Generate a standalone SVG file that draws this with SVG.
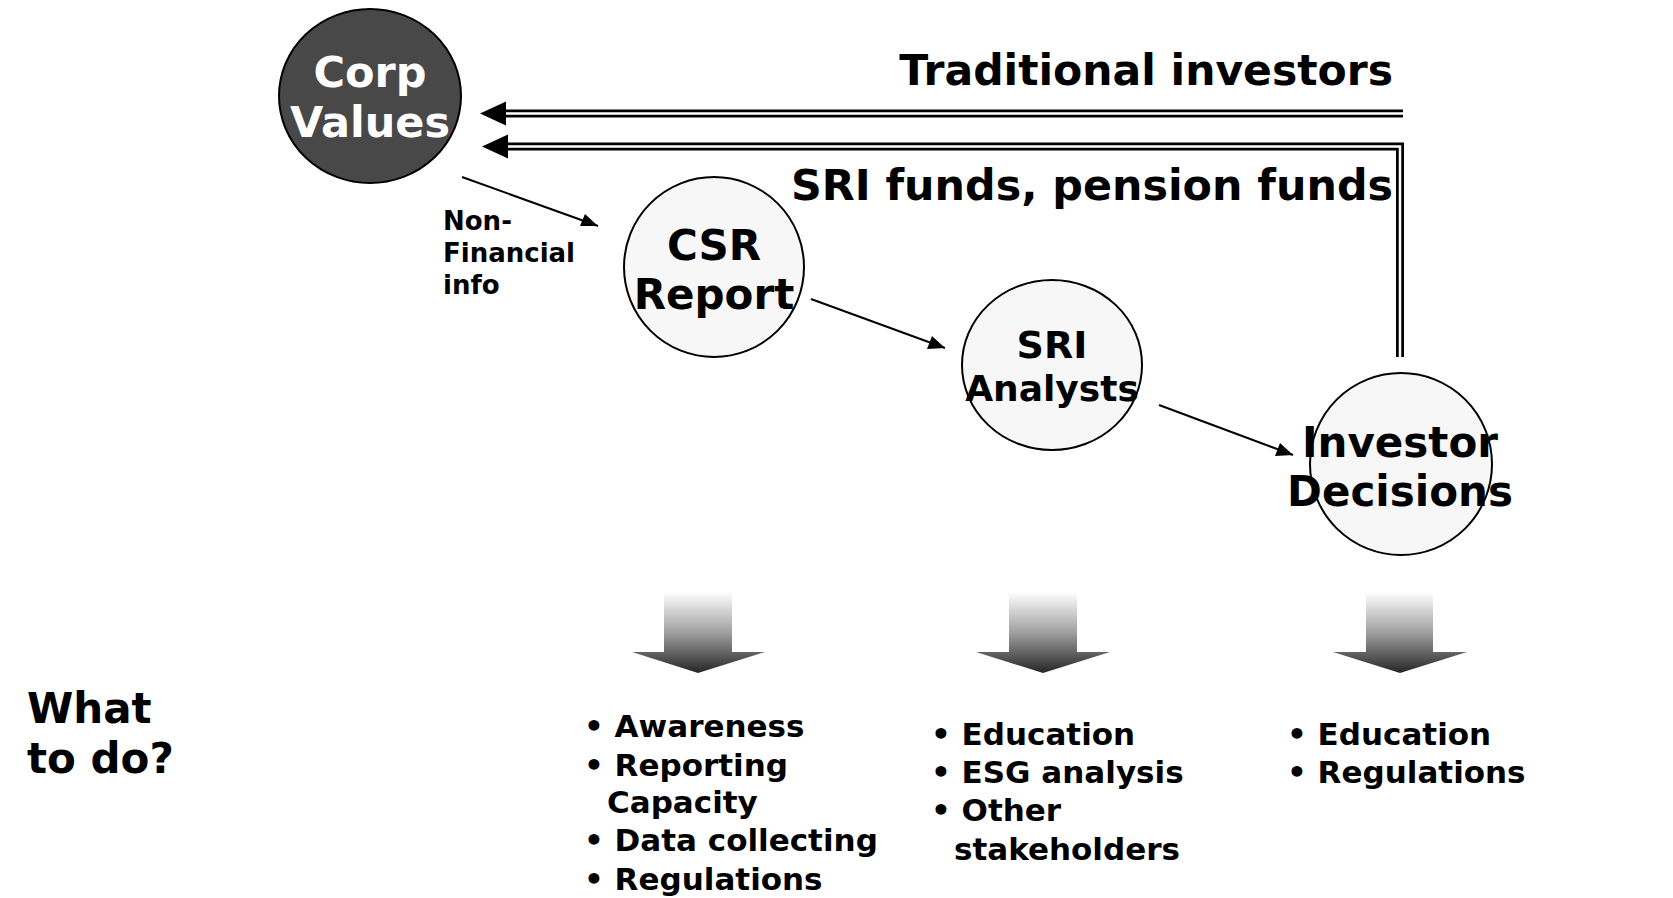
<svg xmlns="http://www.w3.org/2000/svg" width="1673" height="898" viewBox="0 0 1673 898">
<defs>
<linearGradient id="g" x1="0" y1="0" x2="0" y2="1">
<stop offset="0" stop-color="#ffffff"/>
<stop offset="0.5" stop-color="#a0a0a0"/>
<stop offset="1" stop-color="#262626"/>
</linearGradient>
</defs>
<style>
text{font-family:"DejaVu Sans","Verdana",sans-serif;font-weight:bold;fill:#000}
.node{fill:#f7f7f7;stroke:#000;stroke-width:2}
.lbl{font-size:42px;text-anchor:middle}
.thin{stroke:#000;stroke-width:2;fill:none}
.dblo{stroke:#000;stroke-width:8;fill:none}
.dbli{stroke:#fff;stroke-width:2.5;fill:none}
.li{font-size:31px}
.blk{fill:url(#g)}
</style>

<g id="connectors">
<path class="dblo" d="M1403,113.5 H500"/>
<path class="dbli" d="M1403,113.5 H500"/>
<polygon points="480,113.5 506,101.5 506,125.5" fill="#000"/>
<path class="dblo" d="M1400,357 V146.5 H500" stroke-linejoin="miter"/>
<path class="dbli" d="M1400,357 V146.5 H500" stroke-linejoin="miter"/>
<polygon points="482,146.5 508,134.5 508,158.5" fill="#000"/>
<line x1="462" y1="177" x2="598" y2="226" class="thin"/>
<polygon points="598,226 580,226 585,214" fill="#000"/>
<line x1="811" y1="299" x2="945" y2="348" class="thin"/>
<polygon points="945,348 927,349 932,336" fill="#000"/>
<line x1="1159" y1="405" x2="1293" y2="455" class="thin"/>
<polygon points="1293,455 1275,456 1280,443" fill="#000"/>
</g>

<g id="corp-values">
<ellipse cx="370" cy="96" rx="91" ry="87" fill="#484848" stroke="#000" stroke-width="2"/>
<text class="lbl" x="370" y="87" style="fill:#fff;font-size:43px">Corp</text>
<text class="lbl" x="370" y="137" style="fill:#fff;font-size:43px">Values</text>
</g>

<g id="csr-report">
<circle class="node" cx="714" cy="267" r="90"/>
<text class="lbl" x="714" y="260">CSR</text>
<text class="lbl" x="714" y="309">Report</text>
</g>

<g id="sri-analysts">
<ellipse class="node" cx="1052" cy="365" rx="90" ry="85"/>
<text class="lbl" x="1052" y="358" style="font-size:38px">SRI</text>
<text class="lbl" x="1052" y="401" style="font-size:36px">Analysts</text>
</g>

<g id="investor-decisions">
<circle class="node" cx="1401" cy="464" r="91"/>
<text class="lbl" x="1400" y="457">Investor</text>
<text class="lbl" x="1400" y="506">Decisions</text>
</g>

<g id="labels">
<text x="1393" y="85" style="font-size:42.5px;text-anchor:end">Traditional investors</text>
<text x="1393" y="200" style="font-size:42.8px;text-anchor:end">SRI funds, pension funds</text>
<text x="443" y="230" style="font-size:26px">Non-</text>
<text x="443" y="262" style="font-size:26px">Financial</text>
<text x="443" y="294" style="font-size:26px">info</text>
<text x="27" y="723" style="font-size:42px">What</text>
<text x="27" y="773" style="font-size:42px">to do?</text>
</g>

<g id="block-arrows">
<path class="blk" d="M664,592 H732 V652 H765 L698,673 L632,652 H664 Z"/>
<path class="blk" d="M1009,592 H1077 V652 H1110 L1043,673 L976,652 H1009 Z"/>
<path class="blk" d="M1366,592 H1433 V652 H1467 L1400,673 L1333,652 H1366 Z"/>
</g>

<g id="list-csr">
<text class="li" x="584" y="737">• Awareness</text>
<text class="li" x="584" y="776">• Reporting</text>
<text class="li" x="607" y="813">Capacity</text>
<text class="li" x="584" y="851">• Data collecting</text>
<text class="li" x="584" y="890">• Regulations</text>
</g>

<g id="list-sri">
<text class="li" x="931" y="745">• Education</text>
<text class="li" x="931" y="783">• ESG analysis</text>
<text class="li" x="931" y="821">• Other</text>
<text class="li" x="954" y="860">stakeholders</text>
</g>

<g id="list-investor">
<text class="li" x="1287" y="745">• Education</text>
<text class="li" x="1287" y="783">• Regulations</text>
</g>
</svg>
